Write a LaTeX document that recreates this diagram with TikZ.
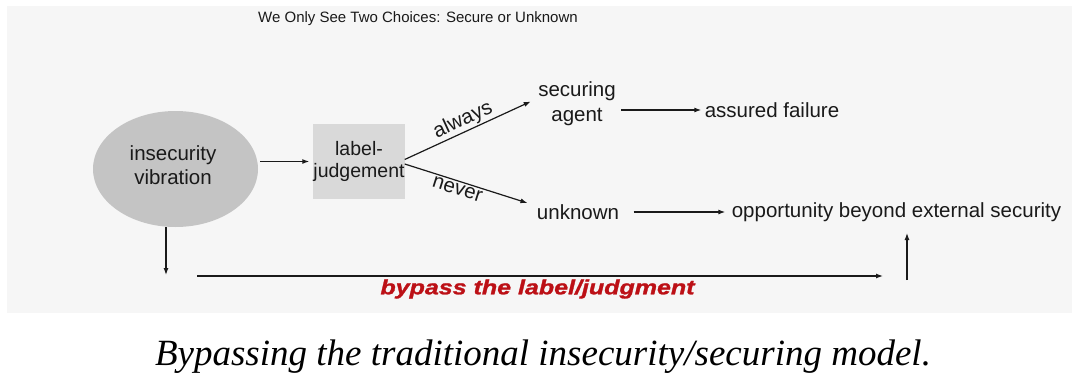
\documentclass[tikz,border=0pt]{standalone}
\usepackage{fontspec}
\usepackage{graphicx}
\setmainfont{Liberation Sans}
\newfontfamily\capfont{Liberation Serif}
\newfontfamily\byfont[FakeBold=1.2]{Liberation Sans}
\usetikzlibrary{arrows.meta,shapes.geometric}
\definecolor{bggray}{HTML}{F6F6F6}
\definecolor{ellgray}{HTML}{C4C4C4}
\definecolor{boxgray}{HTML}{D9D9D9}
\definecolor{ink}{HTML}{1A1A1A}
\definecolor{byred}{HTML}{BC1016}
\tikzset{
  lbl/.style={font=\fontsize{20.5}{24.6}\selectfont, text=ink, align=center, inner sep=3.3pt},
  arr/.style={draw=ink, line width=1.2pt, -{Latex[length=7pt,width=5pt]}},
  ttl/.style={font=\fontsize{15}{18}\selectfont, text=ink},
}
\begin{document}
\begin{tikzpicture}[x=1pt,y=-1pt]
\useasboundingbox (0,0) rectangle (1072,383);
\fill[white] (0,0) rectangle (1072,383);
\fill[bggray] (7,6) rectangle (1072,313);

\node[ttl] (title) at (418,19) {We Only See Two Choices: Secure or Unknown};

\node[ellipse, fill=ellgray, minimum width=165pt, minimum height=116pt, inner sep=0pt] (ins) at (175.5,169) {};
\node[lbl] (inst) at (173,165) {insecurity\\vibration};

\node[rectangle, fill=boxgray, minimum width=90pt, minimum height=75pt, inner sep=0pt,
      font=\fontsize{19.5}{22}\selectfont, text=ink, align=center] (lab) at (359,161.5) {label-\\judgement};

\node[lbl] (sec) at (577,103.5) {securing\\agent};
\node[lbl] (fail) at (772,110) {assured failure};
\node[lbl] (unk) at (578,212) {unknown};
\node[lbl] (opp) at (896.5,212) {opportunity beyond external security};

\node[font=\byfont\bfseries\itshape\fontsize{20.5}{24}\selectfont, text=byred] (byp) at (537.5,289)
  {\scalebox{1.22}[1]{bypass the label/judgment}};

\node[font=\capfont\itshape\fontsize{37}{44}\selectfont, text=black, anchor=base] (cap) at (543,365)
  {Bypassing the traditional insecurity/securing model.};

\coordinate (dn) at (166,275);
\coordinate (bs) at (197,276);
\coordinate (be) at (883,276);
\coordinate (up0) at (907,280);
\coordinate (up1) at (907,233);

\draw[arr, shorten <=2pt, shorten >=4pt] (ins.east |- lab.west) -- (lab.west);
\draw[arr] ([yshift=2pt]lab.east) -- ([xshift=-4pt,yshift=2pt]sec.west)
  node[pos=0.5, sloped, above, inner sep=1.2pt, font=\fontsize{20.5}{24}\selectfont, text=ink] (alw) {always};
\draw[arr] ([yshift=-2.5pt]lab.east) -- ([xshift=-6pt,yshift=9pt]unk.west)
  node[pos=0.45, sloped, below, inner sep=2.2pt, font=\fontsize{20.5}{24}\selectfont, text=ink] (nev) {never};
\draw[arr, shorten <=2pt] (sec.east |- fail.west) -- (fail.west);
\draw[arr, shorten <=11pt, shorten >=3pt] (unk.east) -- (opp.west);
\draw[arr] (ins.south -| dn) -- (dn);
\draw[arr] (bs) -- (be);
\draw[arr] (up0) -- (up1);
\end{tikzpicture}
\end{document}
